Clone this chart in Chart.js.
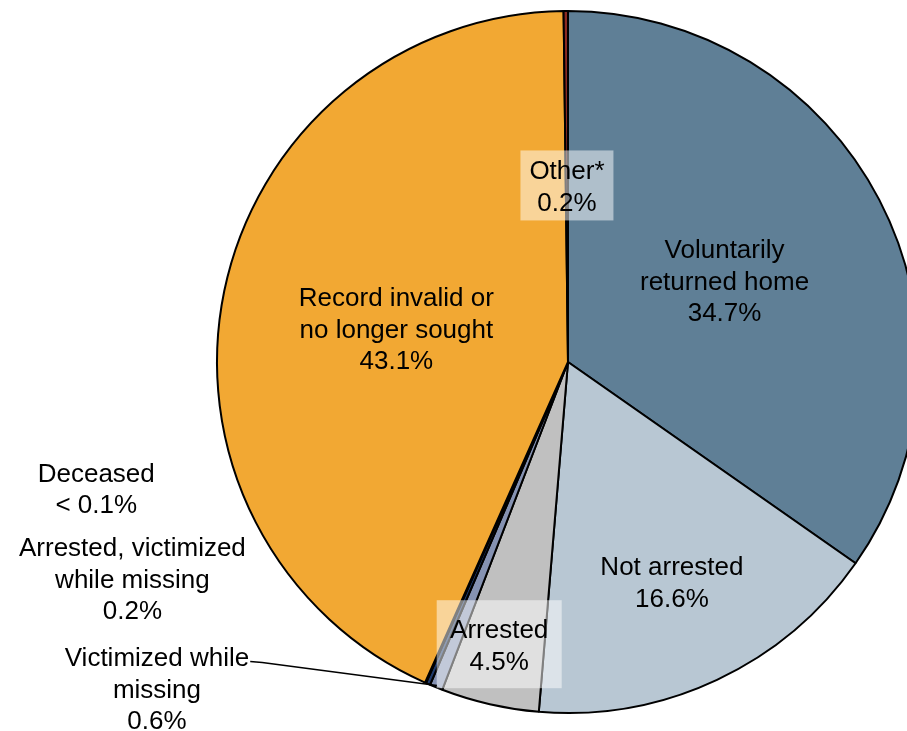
<!DOCTYPE html>
<html>
<head>
<meta charset="utf-8">
<script src="https://cdn.jsdelivr.net/npm/chart.js@4/dist/chart.umd.min.js"></script>
<style>
  html, body { margin: 0; padding: 0; background: #ffffff; overflow: hidden; }
  #wrap { width: 907px; height: 731px; overflow: hidden; position: relative; }
  canvas { display: block; }
</style>
</head>
<body>
<div id="wrap"><canvas id="c" width="940" height="731"></canvas></div>
<script>
// ---- Data ----
const categories = [
  'Voluntarily\nreturned home',
  'Not arrested',
  'Arrested',
  'Victimized while\nmissing',
  'Arrested, victimized\nwhile missing',
  'Deceased',
  'Record invalid or\nno longer sought',
  'Other*'
];
const values = [34.7, 16.6, 4.5, 0.6, 0.2, 0.05, 43.1, 0.2];
const sliceColors = ['#5f7f96', '#b8c7d3', '#c0c0c0', '#8592b2', '#1f3a6b', '#5ab2e4', '#f2a833', '#8b2a22'];

// ---- Label placement (relative to pie centre, in units of radius) ----
const labelPlacement = [
  { fx: 0.446, fy: -0.233 },
  { fx: 0.296, fy: 0.625 },
  { fx: -0.196, fy: 0.804, box: { w: 125, h: 88 } },
  { fx: -1.171, fy: 0.929, leader: true },
  { fx: -1.241, fy: 0.616 },
  { fx: -1.344, fy: 0.358 },
  { fx: -0.489, fy: -0.097 },
  { fx: -0.003, fy: -0.503, box: { w: 93, h: 70 } }
];

function fmtValue(v) {
  return v < 0.1 ? '< 0.1%' : v.toFixed(1) + '%';
}

const FONT = '26px "Liberation Sans", Arial, sans-serif';
const LINE_H = 31.5;
const TEXT_SHIFT = 2.5;

const labelPlugin = {
  id: 'pieLabels',
  afterDatasetsDraw(chart) {
    const ctx = chart.ctx;
    const meta = chart.getDatasetMeta(0);
    ctx.save();
    ctx.font = FONT;
    ctx.textAlign = 'center';
    ctx.textBaseline = 'middle';
    meta.data.forEach((arc, i) => {
      const p = arc.getProps(['x', 'y', 'outerRadius', 'startAngle', 'endAngle'], true);
      const pl = labelPlacement[i];
      const lines = categories[i].split('\n').concat([fmtValue(values[i])]);
      const cx = p.x + pl.fx * p.outerRadius;
      const cy = p.y + pl.fy * p.outerRadius;
      const top = cy - (lines.length - 1) * LINE_H / 2;
      if (pl.box) {
        ctx.fillStyle = 'rgba(255,255,255,0.5)';
        ctx.fillRect(cx - pl.box.w / 2, cy - pl.box.h / 2, pl.box.w, pl.box.h);
      }
      ctx.fillStyle = '#000000';
      lines.forEach((ln, k) => ctx.fillText(ln, cx, top + k * LINE_H + TEXT_SHIFT));
      if (pl.leader) {
        const w = ctx.measureText(lines[0]).width;
        const sx = cx + w / 2 + 1;
        const sy = top + 5;
        const mid = (p.startAngle + p.endAngle) / 2;
        const ex = p.x + Math.cos(mid) * (p.outerRadius - 2);
        const ey = p.y + Math.sin(mid) * (p.outerRadius - 2);
        ctx.beginPath();
        ctx.strokeStyle = '#000000';
        ctx.lineWidth = 1.5;
        ctx.moveTo(sx, sy);
        ctx.lineTo(sx + 12, sy + 1);
        ctx.lineTo(ex, ey);
        ctx.stroke();
      }
    });
    ctx.restore();
  }
};

new Chart(document.getElementById('c'), {
  type: 'pie',
  data: {
    labels: categories,
    datasets: [{
      data: values,
      backgroundColor: sliceColors,
      borderColor: '#000000',
      borderWidth: 2
    }]
  },
  options: {
    responsive: false,
    animation: false,
    layout: { padding: { left: 216, top: 10, right: 20, bottom: 17 } },
    plugins: {
      legend: { display: false },
      tooltip: { enabled: false }
    }
  },
  plugins: [labelPlugin]
});
</script>
</body>
</html>
